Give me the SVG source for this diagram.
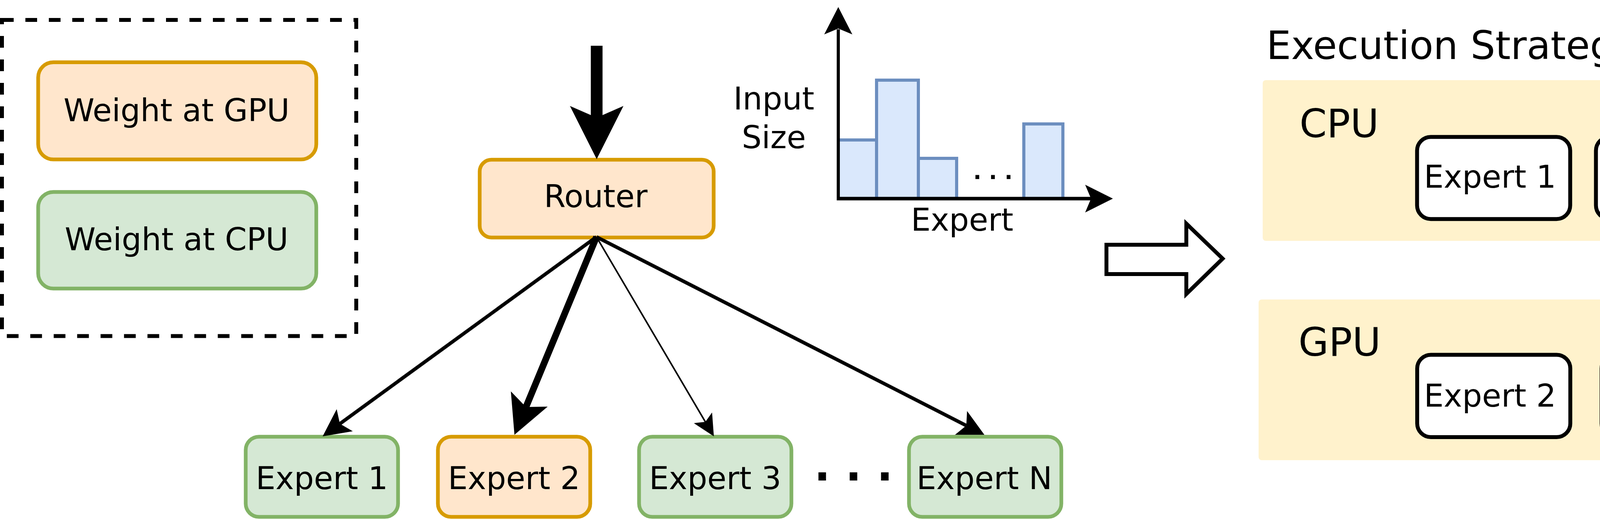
<svg xmlns="http://www.w3.org/2000/svg" width="5530" height="1330" viewBox="0 0 5530 1330">
<style>
text{font-family:"DejaVu Sans","Liberation Sans",sans-serif;fill:#000}
.lbl{font-size:80px;text-anchor:middle}
.big{font-size:100px}
.dots{font-size:110px;font-weight:bold;text-anchor:middle}
.dots-s{font-size:55px;font-weight:bold;text-anchor:middle}
.gpu{fill:#ffe6cc;stroke:#d79b00;stroke-width:9.5}
.cpu{fill:#d5e8d4;stroke:#82b366;stroke-width:9.5}
.plain{fill:#ffffff;stroke:#000;stroke-width:10}
.panel{fill:#fff2cc;stroke:none}
.bar{fill:#dae8fc;stroke:#6c8ebf;stroke-width:8}
.edge{fill:none;stroke:#000;stroke-linecap:butt}
.head{fill:#000;stroke:none}
</style>
<rect width="5530" height="1330" fill="#ffffff"/>

<g id="legend">
<rect x="5" y="51" width="907" height="808.5" fill="none" stroke="#000" stroke-width="10" stroke-dasharray="30 30"/>
<g id="legend-gpu">
<rect class="gpu" x="97.7" y="159.3" width="712" height="248.5" rx="39" ry="39"/>
<text class="lbl" x="452" y="310">Weight at GPU</text>
</g>
<g id="legend-cpu">
<rect class="cpu" x="97.7" y="491" width="712" height="247" rx="39" ry="39"/>
<text class="lbl" x="452" y="640">Weight at CPU</text>
</g>
</g>

<g id="router">
<rect class="gpu" x="1228" y="408.5" width="599" height="199" rx="30" ry="30"/>
<text class="lbl" x="1525" y="530">Router</text>
</g>

<g id="expert-1">
<rect class="cpu" x="629" y="1117" width="390" height="205" rx="34" ry="34"/>
<text class="lbl" x="824" y="1250.5">Expert 1</text>
</g>
<g id="expert-2">
<rect class="gpu" x="1121" y="1117" width="390" height="205" rx="34" ry="34"/>
<text class="lbl" x="1316" y="1250.5">Expert 2</text>
</g>
<g id="expert-3">
<rect class="cpu" x="1636" y="1117" width="390" height="205" rx="34" ry="34"/>
<text class="lbl" x="1831" y="1250.5">Expert 3</text>
</g>
<g id="expert-dots">
<text class="dots" x="2185" y="1229">. . .</text>
</g>
<g id="expert-n">
<rect class="cpu" x="2327" y="1117" width="390" height="205" rx="34" ry="34"/>
<text class="lbl" x="2520" y="1250.5">Expert N</text>
</g>

<g id="connectors">
<line class="edge" x1="1527.5" y1="117" x2="1527.5" y2="305" stroke-width="30"/>
<polygon class="head" points="1527.5,407 1596,271 1527.5,301 1459,271"/>
<line class="edge" x1="1527" y1="606" x2="870.1" y2="1083.8" stroke-width="9"/>
<polygon class="head" points="826,1116 861.9,1046.4 870.1,1083.8 903.1,1103"/>
<line class="edge" x1="1527" y1="606" x2="1346.5" y2="1040.9" stroke-width="17"/>
<polygon class="head" points="1317,1112 1307.8,1001.1 1346.5,1040.9 1402,1040.1"/>
<line class="edge" x1="1527" y1="606" x2="1805.7" y2="1079" stroke-width="4"/>
<polygon class="head" points="1827.5,1116 1776.3,1082.3 1805.7,1079 1822.9,1054.9"/>
<line class="edge" x1="1527" y1="606" x2="2473.7" y2="1088.4" stroke-width="9"/>
<polygon class="head" points="2520,1112 2444.9,1111.9 2473.7,1088.4 2475.7,1051.3"/>
</g>

<g id="chart">
<rect class="bar" x="2146" y="358" width="98" height="150"/>
<rect class="bar" x="2244" y="205" width="107" height="303"/>
<rect class="bar" x="2351" y="405" width="98" height="103"/>
<rect class="bar" x="2621" y="317" width="100" height="191"/>
<text class="dots-s" x="2542" y="458">. . .</text>
<line class="edge" x1="2146" y1="512" x2="2146" y2="75" stroke-width="8"/>
<polygon class="head" points="2146,18 2182,88 2146,73 2110,88"/>
<line class="edge" x1="2142" y1="508" x2="2793" y2="508" stroke-width="9"/>
<polygon class="head" points="2849,508 2778,543.5 2793,508 2778,472.5"/>
<text class="lbl" x="1981" y="280">Input</text>
<text class="lbl" x="1981" y="379">Size</text>
<text class="lbl" x="2463" y="590">Expert</text>
</g>

<g id="transition-arrow">
<polygon points="2832.5,626 3037,626 3037,572 3130,661.5 3037,752 3037,701 2832.5,701" fill="#ffffff" stroke="#000" stroke-width="10" stroke-miterlimit="10"/>
</g>

<g id="execution-strategy">
<text class="big" x="3242" y="151">Execution Strategy</text>
</g>

<g id="cpu-panel">
<rect class="panel" x="3232.5" y="205" width="2293.5" height="411" rx="8" ry="8"/>
<text class="big" x="3326.7" y="350.5">CPU</text>
<g id="cpu-expert-1">
<rect class="plain" x="3627.7" y="350.3" width="392" height="210" rx="35" ry="35"/>
<text class="lbl" x="3814.5" y="480">Expert 1</text>
</g>
<g id="cpu-expert-3">
<rect class="plain" x="4085.6" y="350.3" width="387" height="210" rx="35" ry="35"/>
<text class="lbl" x="4274" y="480">Expert 3</text>
</g>
<text class="dots" x="4688" y="463">. . .</text>
</g>

<g id="gpu-panel">
<rect class="panel" x="3222" y="766" width="2296" height="411" rx="8" ry="8"/>
<text class="big" x="3324" y="910">GPU</text>
<g id="gpu-expert-2">
<rect class="plain" x="3628" y="907.5" width="392" height="210.5" rx="35" ry="35"/>
<text class="lbl" x="3814.5" y="1040">Expert 2</text>
</g>
<g id="gpu-expert-n">
<rect class="plain" x="4100" y="907.5" width="387" height="210.5" rx="35" ry="35"/>
<text class="lbl" x="4286" y="1040">Expert N</text>
</g>
<text class="dots" x="4680" y="1018">. . .</text>
</g>
</svg>
